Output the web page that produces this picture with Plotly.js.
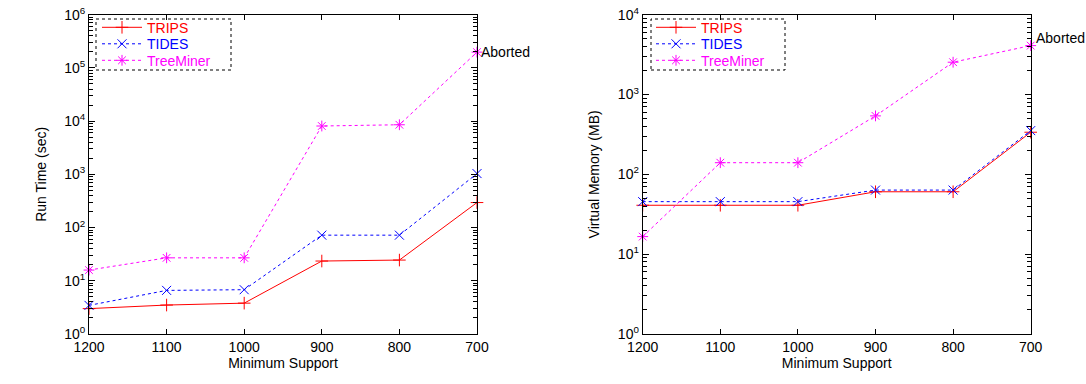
<!DOCTYPE html>
<html>
<head>
<meta charset="utf-8">
<script src="https://cdn.plot.ly/plotly-3.0.1.min.js"></script>
<style>html,body{margin:0;padding:0;background:#fff;}#chart{width:1086px;height:384px;}</style>
</head>
<body>
<div id="chart"></div>
<script>
// ---- data ----
const supports = [1200, 1100, 1000, 900, 800, 700];
const seriesNames = ['TRIPS', 'TIDES', 'TreeMiner'];

const runTimeTRIPS     = [3.0, 3.5, 3.8, 23.5, 24.5, 295];
const runTimeTIDES     = [3.45, 6.6, 6.8, 72, 72, 1035];
const runTimeTreeMiner = [15.9, 27, 27, 8100, 8550, 198000];

const memTRIPS     = [41, 41, 41, 60.5, 60.5, 337];
const memTIDES     = [45.5, 45.5, 45.5, 63.5, 63.5, 353];
const memTreeMiner = [16.6, 140, 140, 540, 2540, 4100];

const xTickVals = [1200, 1100, 1000, 900, 800, 700];
const xTickText = ['1200', '1100', '1000', '900', '800', '700'];
const leftExp = [0, 1, 2, 3, 4, 5, 6];
const rightExp = [0, 1, 2, 3, 4];
const abortedLabel = 'Aborted';
const xTitle = 'Minimum Support';
const leftYTitle = 'Run Time (sec)';
const rightYTitle = 'Virtual Memory (MB)';

// ---- styles ----
const colors = ['#ff0000', '#0000ff', '#ff00ff'];
const dashes = ['solid', 'dot', 'dot'];
const symbols = ['cross-thin-open', 'x-thin-open', 'asterisk-open'];
const FONT = 'Liberation Sans, Arial, Helvetica, sans-serif';
const FS = 14;

function mk(y, i, xa, ya, leg) {
  return {
    x: supports, y: y, type: 'scatter', mode: 'lines+markers',
    name: '<span style="color:' + colors[i] + '">' + seriesNames[i] + '</span>',
    xaxis: xa, yaxis: ya, legend: leg,
    line: {color: colors[i], width: 1, dash: dashes[i]},
    marker: {symbol: symbols[i], size: 9, color: colors[i], line: {color: colors[i], width: 1}},
    cliponaxis: false
  };
}

const traces = [
  mk(runTimeTRIPS, 0, 'x', 'y', 'legend'),
  mk(runTimeTIDES, 1, 'x', 'y', 'legend2'),
  mk(runTimeTreeMiner, 2, 'x', 'y', 'legend3'),
  mk(memTRIPS, 0, 'x2', 'y2', 'legend4'),
  mk(memTIDES, 1, 'x2', 'y2', 'legend5'),
  mk(memTreeMiner, 2, 'x2', 'y2', 'legend6')
];

function xaxis(dom, anchor) {
  return {
    domain: dom, anchor: anchor, range: [1200, 700], tickmode: 'array', tickvals: xTickVals, ticktext: xTickText,
    showline: true, mirror: 'allticks', linecolor: '#000', linewidth: 1,
    ticks: 'inside', ticklen: 5, tickwidth: 1, tickcolor: '#000', showgrid: false, zeroline: false,
    tickfont: {family: FONT, size: FS, color: '#000'},
    title: {text: xTitle, font: {family: FONT, size: FS, color: '#000'}, standoff: 4}
  };
}
function yaxis(dom, exps, title, anchor) {
  const minorVals = [];
  for (let e = exps[0]; e < exps[exps.length - 1]; e++) for (let k = 2; k <= 9; k++) minorVals.push(k * Math.pow(10, e));
  return {
    domain: dom, type: 'log', range: [exps[0], exps[exps.length - 1]], anchor: anchor,
    tickmode: 'array',
    tickvals: exps.map(e => Math.pow(10, e)),
    ticktext: exps.map(e => '10<sup>' + e + '</sup>'),
    showline: true, mirror: 'allticks', linecolor: '#000', linewidth: 1,
    ticks: 'inside', ticklen: 6, tickwidth: 1, tickcolor: '#000', showgrid: false, zeroline: false,
    minor: {tickmode: 'array', tickvals: minorVals, ticks: 'inside', ticklen: 4, tickcolor: '#000', tickwidth: 1, showgrid: false},
    tickfont: {family: FONT, size: FS, color: '#000'},
    title: {text: title, font: {family: FONT, size: FS, color: '#000'}, standoff: 14}
  };
}

const xL = [89 / 1086, 477 / 1086];
const xR = [642.7 / 1086, 1030.7 / 1086];
const yD = [50 / 384, 369.3 / 384];
const rowY = [27.7, 44.2, 60.7];

const legendStyle = (x, r) => ({
  x: x, y: 1 - rowY[r] / 384, xanchor: 'left', yanchor: 'middle',
  bgcolor: 'rgba(0,0,0,0)', borderwidth: 0,
  font: {family: FONT, size: FS}, tracegroupgap: 0, itemwidth: 40
});

const layout = {
  width: 1086, height: 384,
  margin: {l: 0, r: 0, t: 0, b: 0},
  paper_bgcolor: '#fff', plot_bgcolor: '#fff',
  showlegend: true,
  xaxis: xaxis(xL, 'y'),
  yaxis: yaxis(yD, leftExp, leftYTitle, 'x'),
  xaxis2: xaxis(xR, 'y2'),
  yaxis2: yaxis(yD, rightExp, rightYTitle, 'x2'),
  legend: legendStyle(97 / 1086, 0),
  legend2: legendStyle(97 / 1086, 1),
  legend3: legendStyle(97 / 1086, 2),
  legend4: legendStyle(651 / 1086, 0),
  legend5: legendStyle(651 / 1086, 1),
  legend6: legendStyle(651 / 1086, 2),
  shapes: [
    {type: 'rect', xref: 'paper', yref: 'paper', x0: 96 / 1086, x1: 231 / 1086, y0: 1 - 70 / 384, y1: 1 - 19 / 384,
     line: {color: '#000', width: 1, dash: 'dot'}},
    {type: 'rect', xref: 'paper', yref: 'paper', x0: 651 / 1086, x1: 785 / 1086, y0: 1 - 70 / 384, y1: 1 - 19 / 384,
     line: {color: '#000', width: 1, dash: 'dot'}}
  ],
  annotations: [
    {xref: 'x', yref: 'y', x: supports[5], y: Math.log10(runTimeTreeMiner[5]), text: abortedLabel,
     showarrow: false, xanchor: 'left', yanchor: 'middle', xshift: 2, font: {family: FONT, size: FS, color: '#000'}},
    {xref: 'x2', yref: 'y2', x: supports[5], y: Math.log10(memTreeMiner[5]), text: abortedLabel,
     showarrow: false, xanchor: 'left', yanchor: 'middle', xshift: 3, yshift: 8, font: {family: FONT, size: FS, color: '#000'}}
  ]
};

Plotly.newPlot('chart', traces, layout, {staticPlot: true, displayModeBar: false});
</script>
</body>
</html>
